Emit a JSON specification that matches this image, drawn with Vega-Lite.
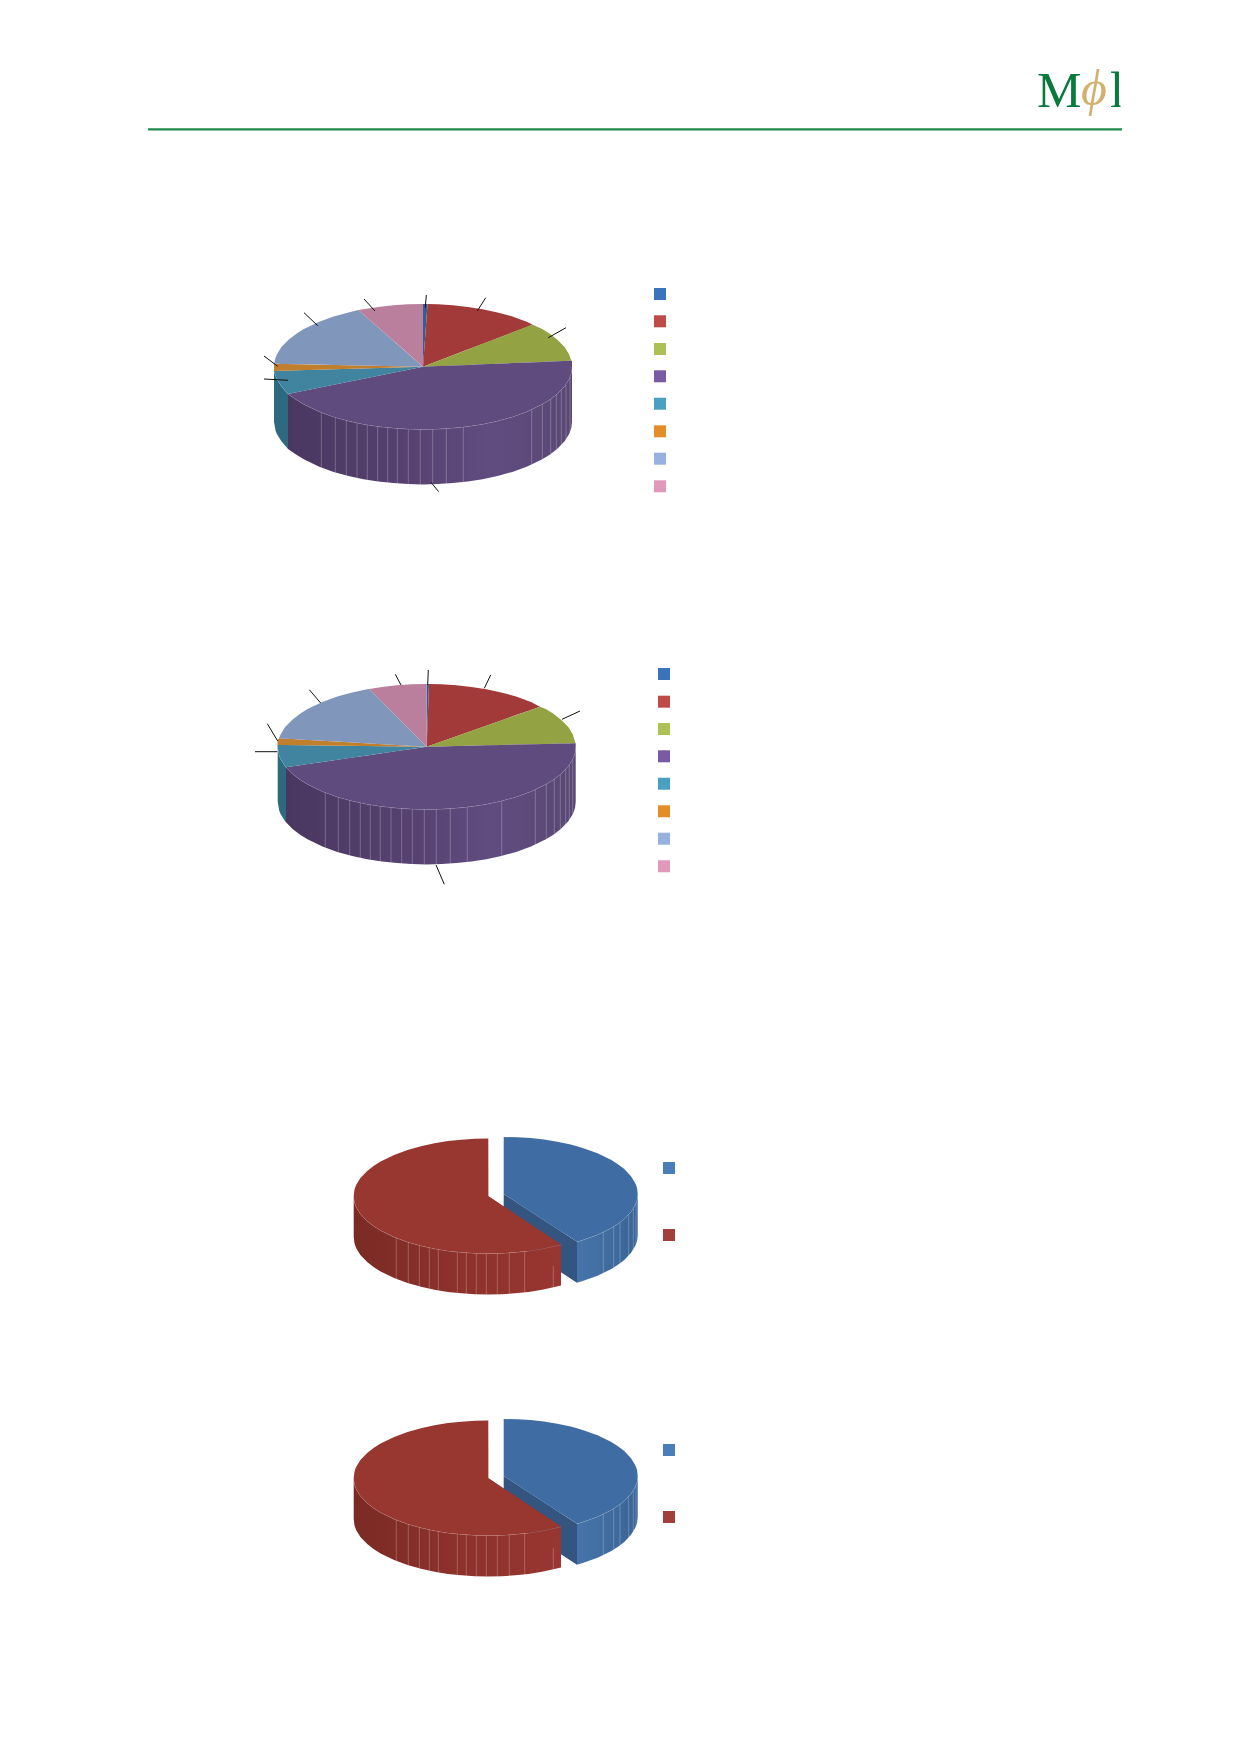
{
  "$schema": "https://vega.github.io/schema/vega-lite/v6.json",
  "description": "Four exploded-look pie charts under a letterhead, outlines read off the page.",
  "background": "white",
  "padding": 0,
  "spacing": 0,
  "config": {"view": {"stroke": null}},
  "datasets": {
    "tops": [
      {"pie":1,"slice":"a","x":423,"y":304,"y2":366.7},{"pie":1,"slice":"a","x":427.5,"y":304,"y2":304},
      {"pie":1,"slice":"b","x":423,"y":366.7,"y2":366.7},{"pie":1,"slice":"b","x":427.5,"y":304,"y2":365},{"pie":1,"slice":"b","x":437.9,"y":304.3,"y2":361},{"pie":1,"slice":"b","x":452.8,"y":305.3,"y2":355.3},{"pie":1,"slice":"b","x":467.7,"y":306.9,"y2":349.6},{"pie":1,"slice":"b","x":482.6,"y":309.2,"y2":344},{"pie":1,"slice":"b","x":497.5,"y":312.4,"y2":338.3},{"pie":1,"slice":"b","x":512.4,"y":316.5,"y2":332.6},{"pie":1,"slice":"b","x":527.3,"y":321.9,"y2":326.9},{"pie":1,"slice":"b","x":532.3,"y":324.6,"y2":324.6},
      {"pie":1,"slice":"c","x":423,"y":366.7,"y2":366.7},{"pie":1,"slice":"c","x":532.3,"y":324.6,"y2":362.3},{"pie":1,"slice":"c","x":542.2,"y":329.1,"y2":361.9},{"pie":1,"slice":"c","x":549.7,"y":333.7,"y2":361.6},{"pie":1,"slice":"c","x":557.1,"y":339.4,"y2":361.3},{"pie":1,"slice":"c","x":564.6,"y":347.1,"y2":361},{"pie":1,"slice":"c","x":569,"y":354.2,"y2":360.8},{"pie":1,"slice":"c","x":571.3,"y":360.7,"y2":360.7},
      {"pie":1,"slice":"d","x":288,"y":394,"y2":394},{"pie":1,"slice":"d","x":296.4,"y":392.3,"y2":399.7},{"pie":1,"slice":"d","x":303.8,"y":390.8,"y2":404.3},{"pie":1,"slice":"d","x":318.7,"y":387.8,"y2":411.5},{"pie":1,"slice":"d","x":333.6,"y":384.8,"y2":416.9},{"pie":1,"slice":"d","x":348.5,"y":381.8,"y2":421},{"pie":1,"slice":"d","x":363.4,"y":378.8,"y2":424.2},{"pie":1,"slice":"d","x":378.3,"y":375.7,"y2":426.5},{"pie":1,"slice":"d","x":393.2,"y":372.7,"y2":428.1},{"pie":1,"slice":"d","x":408.1,"y":369.7,"y2":429.1},{"pie":1,"slice":"d","x":423,"y":366.7,"y2":429.4},{"pie":1,"slice":"d","x":437.9,"y":366.1,"y2":429.1},{"pie":1,"slice":"d","x":452.8,"y":365.5,"y2":428.1},{"pie":1,"slice":"d","x":467.7,"y":364.9,"y2":426.5},{"pie":1,"slice":"d","x":482.6,"y":364.3,"y2":424.2},{"pie":1,"slice":"d","x":497.5,"y":363.7,"y2":421},{"pie":1,"slice":"d","x":512.4,"y":363.1,"y2":416.9},{"pie":1,"slice":"d","x":527.3,"y":362.5,"y2":411.5},{"pie":1,"slice":"d","x":542.2,"y":361.9,"y2":404.3},{"pie":1,"slice":"d","x":549.7,"y":361.6,"y2":399.7},{"pie":1,"slice":"d","x":557.1,"y":361.3,"y2":394},{"pie":1,"slice":"d","x":564.6,"y":361,"y2":386.3},{"pie":1,"slice":"d","x":569,"y":360.8,"y2":379.2},{"pie":1,"slice":"d","x":570.5,"y":360.7,"y2":375.5},{"pie":1,"slice":"d","x":571.4,"y":360.7,"y2":372.5},{"pie":1,"slice":"d","x":572,"y":360.7,"y2":366.7},
      {"pie":1,"slice":"e","x":274,"y":371,"y2":371},{"pie":1,"slice":"e","x":275.5,"y":370.9,"y2":375.5},{"pie":1,"slice":"e","x":277,"y":370.9,"y2":379.2},{"pie":1,"slice":"e","x":281.4,"y":370.8,"y2":386.3},{"pie":1,"slice":"e","x":288,"y":370.6,"y2":394},{"pie":1,"slice":"e","x":423,"y":366.7,"y2":366.7},
      {"pie":1,"slice":"f","x":274,"y":363.7,"y2":371},{"pie":1,"slice":"f","x":423,"y":366.7,"y2":366.7},
      {"pie":1,"slice":"g","x":274,"y":363.7,"y2":363.7},{"pie":1,"slice":"g","x":275.5,"y":357.9,"y2":363.7},{"pie":1,"slice":"g","x":277,"y":354.2,"y2":363.8},{"pie":1,"slice":"g","x":281.4,"y":347.1,"y2":363.9},{"pie":1,"slice":"g","x":288.9,"y":339.4,"y2":364},{"pie":1,"slice":"g","x":296.4,"y":333.7,"y2":364.2},{"pie":1,"slice":"g","x":303.8,"y":329.1,"y2":364.3},{"pie":1,"slice":"g","x":318.7,"y":321.9,"y2":364.6},{"pie":1,"slice":"g","x":333.6,"y":316.5,"y2":364.9},{"pie":1,"slice":"g","x":348.5,"y":312.4,"y2":365.2},{"pie":1,"slice":"g","x":358.3,"y":310,"y2":365.4},{"pie":1,"slice":"g","x":423,"y":366.7,"y2":366.7},
      {"pie":1,"slice":"h","x":358.3,"y":310,"y2":310},{"pie":1,"slice":"h","x":363.4,"y":309.2,"y2":314.5},{"pie":1,"slice":"h","x":378.3,"y":306.9,"y2":327.5},{"pie":1,"slice":"h","x":393.2,"y":305.3,"y2":340.6},{"pie":1,"slice":"h","x":408.1,"y":304.3,"y2":353.6},{"pie":1,"slice":"h","x":423,"y":304,"y2":366.7},
      {"pie":2,"slice":"a","x":426.7,"y":684,"y2":746.7},{"pie":2,"slice":"a","x":429,"y":684,"y2":684},
      {"pie":2,"slice":"b","x":426.7,"y":746.7,"y2":746.7},{"pie":2,"slice":"b","x":429,"y":684,"y2":745.9},{"pie":2,"slice":"b","x":441.6,"y":684.3,"y2":741.4},{"pie":2,"slice":"b","x":456.5,"y":685.3,"y2":736.2},{"pie":2,"slice":"b","x":471.4,"y":686.9,"y2":730.9},{"pie":2,"slice":"b","x":486.3,"y":689.2,"y2":725.7},{"pie":2,"slice":"b","x":501.2,"y":692.4,"y2":720.4},{"pie":2,"slice":"b","x":516.1,"y":696.5,"y2":715.1},{"pie":2,"slice":"b","x":531,"y":701.9,"y2":709.9},{"pie":2,"slice":"b","x":540,"y":706.7,"y2":706.7},
      {"pie":2,"slice":"c","x":426.7,"y":746.7,"y2":746.7},{"pie":2,"slice":"c","x":540,"y":706.7,"y2":744.1},{"pie":2,"slice":"c","x":545.9,"y":709.1,"y2":744},{"pie":2,"slice":"c","x":553.4,"y":713.7,"y2":743.8},{"pie":2,"slice":"c","x":560.8,"y":719.4,"y2":743.6},{"pie":2,"slice":"c","x":568.3,"y":727.1,"y2":743.4},{"pie":2,"slice":"c","x":572.7,"y":734.2,"y2":743.3},{"pie":2,"slice":"c","x":575.5,"y":743.3,"y2":743.3},
      {"pie":2,"slice":"d","x":286,"y":767.3,"y2":767.3},{"pie":2,"slice":"d","x":292.6,"y":766.3,"y2":774},{"pie":2,"slice":"d","x":300.1,"y":765.2,"y2":779.7},{"pie":2,"slice":"d","x":307.5,"y":764.1,"y2":784.3},{"pie":2,"slice":"d","x":322.4,"y":762,"y2":791.5},{"pie":2,"slice":"d","x":337.3,"y":759.8,"y2":796.9},{"pie":2,"slice":"d","x":352.2,"y":757.6,"y2":801},{"pie":2,"slice":"d","x":367.1,"y":755.4,"y2":804.2},{"pie":2,"slice":"d","x":382,"y":753.2,"y2":806.5},{"pie":2,"slice":"d","x":396.9,"y":751.1,"y2":808.1},{"pie":2,"slice":"d","x":411.8,"y":748.9,"y2":809.1},{"pie":2,"slice":"d","x":426.7,"y":746.7,"y2":809.4},{"pie":2,"slice":"d","x":441.6,"y":746.4,"y2":809.1},{"pie":2,"slice":"d","x":456.5,"y":746,"y2":808.1},{"pie":2,"slice":"d","x":471.4,"y":745.7,"y2":806.5},{"pie":2,"slice":"d","x":486.3,"y":745.3,"y2":804.2},{"pie":2,"slice":"d","x":501.2,"y":745,"y2":801},{"pie":2,"slice":"d","x":516.1,"y":744.6,"y2":796.9},{"pie":2,"slice":"d","x":531,"y":744.3,"y2":791.5},{"pie":2,"slice":"d","x":545.9,"y":744,"y2":784.3},{"pie":2,"slice":"d","x":553.4,"y":743.8,"y2":779.7},{"pie":2,"slice":"d","x":560.8,"y":743.6,"y2":774},{"pie":2,"slice":"d","x":568.3,"y":743.4,"y2":766.3},{"pie":2,"slice":"d","x":572.7,"y":743.3,"y2":759.2},{"pie":2,"slice":"d","x":574.2,"y":743.2,"y2":755.5},{"pie":2,"slice":"d","x":575.1,"y":743.2,"y2":752.5},{"pie":2,"slice":"d","x":575.7,"y":743.2,"y2":746.7},
      {"pie":2,"slice":"e","x":277.5,"y":745,"y2":746.7},{"pie":2,"slice":"e","x":279.2,"y":745,"y2":755.5},{"pie":2,"slice":"e","x":280.7,"y":745,"y2":759.2},{"pie":2,"slice":"e","x":285.1,"y":745.1,"y2":766.3},{"pie":2,"slice":"e","x":286,"y":745.1,"y2":767.3},{"pie":2,"slice":"e","x":426.7,"y":746.7,"y2":746.7},
      {"pie":2,"slice":"f","x":277.5,"y":740,"y2":745},{"pie":2,"slice":"f","x":279,"y":738.3,"y2":745},{"pie":2,"slice":"f","x":426.7,"y":746.7,"y2":746.7},
      {"pie":2,"slice":"g","x":279,"y":738.3,"y2":738.3},{"pie":2,"slice":"g","x":280.7,"y":734.2,"y2":738.4},{"pie":2,"slice":"g","x":285.1,"y":727.1,"y2":738.7},{"pie":2,"slice":"g","x":292.6,"y":719.4,"y2":739.1},{"pie":2,"slice":"g","x":300.1,"y":713.7,"y2":739.5},{"pie":2,"slice":"g","x":307.5,"y":709.1,"y2":739.9},{"pie":2,"slice":"g","x":322.4,"y":701.9,"y2":740.8},{"pie":2,"slice":"g","x":337.3,"y":696.5,"y2":741.6},{"pie":2,"slice":"g","x":352.2,"y":692.4,"y2":742.5},{"pie":2,"slice":"g","x":367.1,"y":689.2,"y2":743.3},{"pie":2,"slice":"g","x":369.3,"y":689,"y2":743.4},{"pie":2,"slice":"g","x":426.7,"y":746.7,"y2":746.7},
      {"pie":2,"slice":"h","x":369.3,"y":689,"y2":689},{"pie":2,"slice":"h","x":382,"y":686.9,"y2":701.8},{"pie":2,"slice":"h","x":396.9,"y":685.3,"y2":716.8},{"pie":2,"slice":"h","x":411.8,"y":684.3,"y2":731.7},{"pie":2,"slice":"h","x":426.7,"y":684,"y2":746.7}
    ],
    "walls": [
      {"pie":1,"slice":"e","x":274,"y":371,"y2":421.7},{"pie":1,"slice":"e","x":275.5,"y":375.5,"y2":430.5},{"pie":1,"slice":"e","x":277,"y":379.2,"y2":434.2},{"pie":1,"slice":"e","x":281.4,"y":386.3,"y2":441.3},{"pie":1,"slice":"e","x":288,"y":394,"y2":449},
      {"pie":1,"slice":"d","x":288,"y":394,"y2":449},{"pie":1,"slice":"d","x":296.4,"y":399.7,"y2":454.7},{"pie":1,"slice":"d","x":303.8,"y":404.3,"y2":459.3},{"pie":1,"slice":"d","x":318.7,"y":411.5,"y2":466.5},{"pie":1,"slice":"d","x":333.6,"y":416.9,"y2":471.9},{"pie":1,"slice":"d","x":348.5,"y":421,"y2":476},{"pie":1,"slice":"d","x":363.4,"y":424.2,"y2":479.2},{"pie":1,"slice":"d","x":378.3,"y":426.5,"y2":481.5},{"pie":1,"slice":"d","x":393.2,"y":428.1,"y2":483.1},{"pie":1,"slice":"d","x":408.1,"y":429.1,"y2":484.1},{"pie":1,"slice":"d","x":423,"y":429.4,"y2":484.4},{"pie":1,"slice":"d","x":437.9,"y":429.1,"y2":484.1},{"pie":1,"slice":"d","x":452.8,"y":428.1,"y2":483.1},{"pie":1,"slice":"d","x":467.7,"y":426.5,"y2":481.5},{"pie":1,"slice":"d","x":482.6,"y":424.2,"y2":479.2},{"pie":1,"slice":"d","x":497.5,"y":421,"y2":476},{"pie":1,"slice":"d","x":512.4,"y":416.9,"y2":471.9},{"pie":1,"slice":"d","x":527.3,"y":411.5,"y2":466.5},{"pie":1,"slice":"d","x":542.2,"y":404.3,"y2":459.3},{"pie":1,"slice":"d","x":549.7,"y":399.7,"y2":454.7},{"pie":1,"slice":"d","x":557.1,"y":394,"y2":449},{"pie":1,"slice":"d","x":564.6,"y":386.3,"y2":441.3},{"pie":1,"slice":"d","x":569,"y":379.2,"y2":434.2},{"pie":1,"slice":"d","x":570.5,"y":375.5,"y2":430.5},{"pie":1,"slice":"d","x":571.4,"y":372.5,"y2":427.5},{"pie":1,"slice":"d","x":572,"y":366.7,"y2":421.7},
      {"pie":2,"slice":"e","x":277.7,"y":746.7,"y2":801.7},{"pie":2,"slice":"e","x":279.2,"y":755.5,"y2":810.5},{"pie":2,"slice":"e","x":280.7,"y":759.2,"y2":814.2},{"pie":2,"slice":"e","x":285.1,"y":766.3,"y2":821.3},{"pie":2,"slice":"e","x":286,"y":767.3,"y2":822.3},
      {"pie":2,"slice":"d","x":286,"y":767.3,"y2":822.3},{"pie":2,"slice":"d","x":292.6,"y":774,"y2":829},{"pie":2,"slice":"d","x":300.1,"y":779.7,"y2":834.7},{"pie":2,"slice":"d","x":307.5,"y":784.3,"y2":839.3},{"pie":2,"slice":"d","x":322.4,"y":791.5,"y2":846.5},{"pie":2,"slice":"d","x":337.3,"y":796.9,"y2":851.9},{"pie":2,"slice":"d","x":352.2,"y":801,"y2":856},{"pie":2,"slice":"d","x":367.1,"y":804.2,"y2":859.2},{"pie":2,"slice":"d","x":382,"y":806.5,"y2":861.5},{"pie":2,"slice":"d","x":396.9,"y":808.1,"y2":863.1},{"pie":2,"slice":"d","x":411.8,"y":809.1,"y2":864.1},{"pie":2,"slice":"d","x":426.7,"y":809.4,"y2":864.4},{"pie":2,"slice":"d","x":441.6,"y":809.1,"y2":864.1},{"pie":2,"slice":"d","x":456.5,"y":808.1,"y2":863.1},{"pie":2,"slice":"d","x":471.4,"y":806.5,"y2":861.5},{"pie":2,"slice":"d","x":486.3,"y":804.2,"y2":859.2},{"pie":2,"slice":"d","x":501.2,"y":801,"y2":856},{"pie":2,"slice":"d","x":516.1,"y":796.9,"y2":851.9},{"pie":2,"slice":"d","x":531,"y":791.5,"y2":846.5},{"pie":2,"slice":"d","x":545.9,"y":784.3,"y2":839.3},{"pie":2,"slice":"d","x":553.4,"y":779.7,"y2":834.7},{"pie":2,"slice":"d","x":560.8,"y":774,"y2":829},{"pie":2,"slice":"d","x":568.3,"y":766.3,"y2":821.3},{"pie":2,"slice":"d","x":572.7,"y":759.2,"y2":814.2},{"pie":2,"slice":"d","x":574.2,"y":755.5,"y2":810.5},{"pie":2,"slice":"d","x":575.1,"y":752.5,"y2":807.5},{"pie":2,"slice":"d","x":575.7,"y":746.7,"y2":801.7}
    ],
    "seams": [
      {"x":321.3,"y":412.5,"y2":467.5},{"x":335.3,"y":417.4,"y2":472.4},{"x":346.3,"y":420.5,"y2":475.5},{"x":357,"y":423,"y2":478},{"x":367.3,"y":424.9,"y2":479.9},{"x":377.7,"y":426.4,"y2":481.4},{"x":387.7,"y":427.6,"y2":482.6},{"x":397.3,"y":428.4,"y2":483.4},{"x":408.3,"y":429.1,"y2":484.1},{"x":420.3,"y":429.4,"y2":484.4},{"x":432.7,"y":429.2,"y2":484.2},{"x":446.3,"y":428.6,"y2":483.6},{"x":463.3,"y":427,"y2":482},{"x":531.7,"y":409.5,"y2":464.5},{"x":542.3,"y":404.2,"y2":459.2},{"x":550.7,"y":399,"y2":454},{"x":556.3,"y":394.6,"y2":449.6},{"x":561.3,"y":390,"y2":445},{"x":566,"y":385,"y2":440},{"x":570,"y":377,"y2":432},
      {"x":325.3,"y":792.6,"y2":847.6},{"x":338.3,"y":797.3,"y2":852.3},{"x":349.7,"y":800.6,"y2":855.6},{"x":360.3,"y":803.2,"y2":858.2},{"x":370.3,"y":805.1,"y2":860.1},{"x":380.3,"y":806.7,"y2":861.7},{"x":391,"y":807.8,"y2":862.8},{"x":401.7,"y":808.6,"y2":863.6},{"x":412.3,"y":809.1,"y2":864.1},{"x":424.3,"y":809.4,"y2":864.4},{"x":436.3,"y":809.2,"y2":864.2},{"x":450.3,"y":808.5,"y2":863.5},{"x":467.3,"y":806.9,"y2":861.9},{"x":501.7,"y":800.8,"y2":855.8},{"x":535.3,"y":789.5,"y2":844.5},{"x":546.3,"y":783.8,"y2":838.8},{"x":554.3,"y":779,"y2":834},{"x":560.3,"y":774.5,"y2":829.5},{"x":565.7,"y":769.3,"y2":824.3},{"x":569.3,"y":765,"y2":820},{"x":572.7,"y":759.2,"y2":814.2}
    ],
    "leaders": [
      {"x":426.3,"y":295,"x2":425.3,"y2":307.7},{"x":485.7,"y":297.7,"x2":477.3,"y2":311},{"x":566,"y":327.7,"x2":548.3,"y2":337.7},{"x":431,"y":482.3,"x2":438.7,"y2":491.7},{"x":264,"y":379,"x2":288,"y2":380.3},{"x":264,"y":356,"x2":277.7,"y2":366.3},{"x":304,"y":312.7,"x2":317.7,"y2":325.7},{"x":364,"y":299,"x2":375,"y2":311},
      {"x":428.3,"y":670,"x2":427.7,"y2":685},{"x":490.7,"y":675,"x2":484.3,"y2":688.3},{"x":580,"y":711,"x2":562,"y2":719.3},{"x":436,"y":865,"x2":444.3,"y2":884.3},{"x":255,"y":751.7,"x2":277.3,"y2":751.7},{"x":267.3,"y":723.7,"x2":277.7,"y2":741},{"x":309.3,"y":689.7,"x2":320.7,"y2":703},{"x":395.3,"y":674.3,"x2":401,"y2":685}
    ],
    "keys": [
      {"slice":"a","x":660,"y":294},{"slice":"b","x":660,"y":321.3},{"slice":"c","x":660,"y":349},{"slice":"d","x":660,"y":376.3},{"slice":"e","x":660,"y":403.7},{"slice":"f","x":660,"y":431.3},{"slice":"g","x":660,"y":458.7},{"slice":"h","x":660,"y":486.3},
      {"slice":"a","x":664,"y":674},{"slice":"b","x":664,"y":701.7},{"slice":"c","x":664,"y":729},{"slice":"d","x":664,"y":756.3},{"slice":"e","x":664,"y":783.7},{"slice":"f","x":664,"y":811.3},{"slice":"g","x":664,"y":838.7},{"slice":"h","x":664,"y":866.3}
    ],
    "splitTops": [
      {"slice":"blue","x":503.7,"y":1137,"y2":1194},{"slice":"blue","x":517.1,"y":1137.3,"y2":1202.7},{"slice":"blue","x":530.5,"y":1138.1,"y2":1211.5},{"slice":"blue","x":543.9,"y":1139.6,"y2":1220.2},{"slice":"blue","x":557.3,"y":1141.7,"y2":1228.9},{"slice":"blue","x":570.7,"y":1144.6,"y2":1237.6},{"slice":"blue","x":577,"y":1146.3,"y2":1241.7},{"slice":"blue","x":584.1,"y":1148.4,"y2":1239.6},{"slice":"blue","x":597.5,"y":1153.3,"y2":1234.7},{"slice":"blue","x":610.9,"y":1159.8,"y2":1228.2},{"slice":"blue","x":617.6,"y":1164,"y2":1224},{"slice":"blue","x":624.3,"y":1169.1,"y2":1218.9},{"slice":"blue","x":631,"y":1176.2,"y2":1211.8},{"slice":"blue","x":635,"y":1182.7,"y2":1205.3},{"slice":"blue","x":636.4,"y":1186,"y2":1202},{"slice":"blue","x":637.1,"y":1188.3,"y2":1199.7},{"slice":"blue","x":637.7,"y":1194,"y2":1194},
      {"slice":"red","x":353.7,"y":1196,"y2":1196},{"slice":"red","x":354.4,"y":1190.3,"y2":1201.7},{"slice":"red","x":355,"y":1187.9,"y2":1204.1},{"slice":"red","x":356.4,"y":1184.6,"y2":1207.4},{"slice":"red","x":360.4,"y":1178.1,"y2":1213.9},{"slice":"red","x":367.2,"y":1170.9,"y2":1221.1},{"slice":"red","x":373.9,"y":1165.7,"y2":1226.3},{"slice":"red","x":380.6,"y":1161.5,"y2":1230.5},{"slice":"red","x":394.1,"y":1154.9,"y2":1237.1},{"slice":"red","x":407.5,"y":1150,"y2":1242},{"slice":"red","x":421,"y":1146.2,"y2":1245.8},{"slice":"red","x":434.5,"y":1143.3,"y2":1248.7},{"slice":"red","x":447.9,"y":1141.1,"y2":1250.9},{"slice":"red","x":461.4,"y":1139.7,"y2":1252.3},{"slice":"red","x":474.8,"y":1138.8,"y2":1253.2},{"slice":"red","x":488.3,"y":1138.5,"y2":1253.5},{"slice":"red","x":488.4,"y":1196,"y2":1253.5},{"slice":"red","x":501.8,"y":1205,"y2":1253.2},{"slice":"red","x":515.2,"y":1213.9,"y2":1252.3},{"slice":"red","x":528.7,"y":1222.9,"y2":1250.9},{"slice":"red","x":542.1,"y":1231.8,"y2":1248.7},{"slice":"red","x":555.6,"y":1240.8,"y2":1245.8},{"slice":"red","x":561,"y":1244.4,"y2":1244.4}
    ],
    "splitWalls": [
      {"slice":"cut","x":503.7,"y":1194,"y2":1235},{"slice":"cut","x":577,"y":1241.7,"y2":1282.7},
      {"slice":"blue","x":577,"y":1241.7,"y2":1282.7},{"slice":"blue","x":584.1,"y":1239.6,"y2":1280.6},{"slice":"blue","x":597.5,"y":1234.7,"y2":1275.7},{"slice":"blue","x":610.9,"y":1228.2,"y2":1269.2},{"slice":"blue","x":617.6,"y":1224,"y2":1265},{"slice":"blue","x":624.3,"y":1218.9,"y2":1259.9},{"slice":"blue","x":631,"y":1211.8,"y2":1252.8},{"slice":"blue","x":635,"y":1205.3,"y2":1246.3},{"slice":"blue","x":636.4,"y":1202,"y2":1243},{"slice":"blue","x":637.1,"y":1199.7,"y2":1240.7},{"slice":"blue","x":637.7,"y":1194,"y2":1235},
      {"slice":"red","x":353.7,"y":1196,"y2":1237},{"slice":"red","x":354.4,"y":1201.7,"y2":1242.7},{"slice":"red","x":355,"y":1204.1,"y2":1245.1},{"slice":"red","x":356.4,"y":1207.4,"y2":1248.4},{"slice":"red","x":360.4,"y":1213.9,"y2":1254.9},{"slice":"red","x":367.2,"y":1221.1,"y2":1262.1},{"slice":"red","x":373.9,"y":1226.3,"y2":1267.3},{"slice":"red","x":380.6,"y":1230.5,"y2":1271.5},{"slice":"red","x":394.1,"y":1237.1,"y2":1278.1},{"slice":"red","x":407.5,"y":1242,"y2":1283},{"slice":"red","x":421,"y":1245.8,"y2":1286.8},{"slice":"red","x":434.5,"y":1248.7,"y2":1289.7},{"slice":"red","x":447.9,"y":1250.9,"y2":1291.9},{"slice":"red","x":461.4,"y":1252.3,"y2":1293.3},{"slice":"red","x":474.8,"y":1253.2,"y2":1294.2},{"slice":"red","x":488.3,"y":1253.5,"y2":1294.5},{"slice":"red","x":501.8,"y":1253.2,"y2":1294.2},{"slice":"red","x":515.2,"y":1252.3,"y2":1293.3},{"slice":"red","x":528.7,"y":1250.9,"y2":1291.9},{"slice":"red","x":542.1,"y":1248.7,"y2":1289.7},{"slice":"red","x":555.6,"y":1245.8,"y2":1286.8},{"slice":"red","x":561,"y":1244.4,"y2":1285.4}
    ],
    "splitSeams": [
      {"x":396.3,"y":1238,"y2":1279},{"x":408.3,"y":1242.3,"y2":1283.3},{"x":419.3,"y":1245.4,"y2":1286.4},{"x":429.3,"y":1247.7,"y2":1288.7},{"x":438.3,"y":1249.4,"y2":1290.4},{"x":457.3,"y":1252,"y2":1293},{"x":466.3,"y":1252.7,"y2":1293.7},{"x":476.3,"y":1253.3,"y2":1294.3},{"x":486.3,"y":1253.5,"y2":1294.5},{"x":497.3,"y":1253.3,"y2":1294.3},{"x":509.3,"y":1252.8,"y2":1293.8},{"x":524.7,"y":1251.4,"y2":1292.4},{"x":553.3,"y":1266,"y2":1287.4},
      {"x":603.3,"y":1232,"y2":1273},{"x":613.7,"y":1226.6,"y2":1267.6},{"x":620,"y":1222.3,"y2":1263.3},{"x":628.7,"y":1214.5,"y2":1255.5},{"x":633.3,"y":1208.5,"y2":1249.5},{"x":636,"y":1203,"y2":1244}
    ],
    "splitKeys": [
      {"slice":"blue","x":669,"y":1168},{"slice":"red","x":669,"y":1235}
    ]
  },
  "vconcat": [
    {
      "width": 1239,
      "height": 1050,
      "encoding": {
        "x": {"field": "x", "type": "quantitative", "axis": null, "scale": {"domain": [0, 1239], "nice": false, "zero": false}},
        "y": {"field": "y", "type": "quantitative", "axis": null, "scale": {"domain": [0, 1050], "nice": false, "zero": false, "reverse": true}}
      },
      "resolve": {"scale": {"color": "independent"}},
      "layer": [
        {
          "data": {"name": "walls"},
          "transform": [{"filter": {"field": "slice", "equal": "e"}}],
          "mark": {"type": "area", "orient": "vertical", "color": "#2d6a80"},
          "encoding": {"y2": {"field": "y2"}, "detail": {"field": "pie"}}
        },
        {
          "data": {"name": "walls"},
          "transform": [{"filter": {"field": "slice", "equal": "d"}}],
          "mark": {"type": "area", "orient": "vertical", "color": {"gradient": "linear", "x1": 0, "x2": 1, "y1": 0, "y2": 0, "stops": [{"offset": 0, "color": "#4a3760"}, {"offset": 0.45, "color": "#574272"}, {"offset": 0.7, "color": "#614c80"}, {"offset": 1, "color": "#5a4874"}]}},
          "encoding": {"y2": {"field": "y2"}, "detail": {"field": "pie"}}
        },
        {
          "data": {"name": "seams"},
          "mark": {"type": "rule", "color": "white", "opacity": 0.24, "strokeWidth": 1},
          "encoding": {"y2": {"field": "y2"}}
        },
        {
          "data": {"name": "walls"},
          "mark": {"type": "line", "color": "white", "opacity": 0.2, "strokeWidth": 1},
          "encoding": {"detail": [{"field": "pie"}, {"field": "slice"}]}
        },
        {
          "data": {"name": "tops"},
          "mark": {"type": "area", "orient": "vertical"},
          "encoding": {
            "y2": {"field": "y2"},
            "detail": {"field": "pie"},
            "color": {"field": "slice", "type": "nominal", "legend": null, "scale": {"domain": ["a", "b", "c", "d", "e", "f", "g", "h"], "range": ["#2f5f9a", "#a33a3a", "#93a344", "#604b7f", "#41849f", "#c07f2c", "#8196bb", "#b97f9d"]}}
          }
        },
        {
          "data": {"name": "leaders"},
          "mark": {"type": "rule", "color": "#111111", "strokeWidth": 1},
          "encoding": {"x2": {"field": "x2"}, "y2": {"field": "y2"}}
        },
        {
          "data": {"name": "keys"},
          "mark": {"type": "point", "shape": "square", "filled": true, "size": 144, "opacity": 1},
          "encoding": {
            "color": {"field": "slice", "type": "nominal", "legend": null, "scale": {"domain": ["a", "b", "c", "d", "e", "f", "g", "h"], "range": ["#3b73bd", "#be4b48", "#adc055", "#7a5ba3", "#4aa0c0", "#e48e2a", "#98b2df", "#e199bb"]}}
          }
        },
        {
          "data": {"values": [{"x": 148, "x2": 1122, "y": 129.3}]},
          "mark": {"type": "rule", "color": "#1f8a4c", "strokeWidth": 2.2},
          "encoding": {"x2": {"field": "x2"}}
        },
        {
          "data": {"values": [{"label": "M", "x": 1037, "y": 106.7}, {"label": "l", "x": 1110, "y": 106.7}]},
          "mark": {"type": "text", "font": "Liberation Serif", "fontSize": 50, "align": "left", "baseline": "alphabetic", "color": "#0a7a3c"},
          "encoding": {"text": {"field": "label"}}
        },
        {
          "data": {"values": [{"x": 1120.5, "x2": 1134, "y": 65, "y2": 112}]},
          "mark": {"type": "rect", "color": "white"},
          "encoding": {"x2": {"field": "x2"}, "y2": {"field": "y2"}}
        },
        {
          "data": {"values": [{"label": "ϕ", "x": 1081, "y": 105}]},
          "mark": {"type": "text", "font": "Liberation Serif", "fontSize": 50, "fontStyle": "italic", "align": "left", "baseline": "alphabetic", "color": "#d2b06f"},
          "encoding": {"text": {"field": "label"}}
        }
      ]
    },
    {
      "width": 1239,
      "height": 281.3,
      "encoding": {
        "x": {"field": "x", "type": "quantitative", "axis": null, "scale": {"domain": [0, 1239], "nice": false, "zero": false}},
        "y": {"field": "y", "type": "quantitative", "axis": null, "scale": {"domain": [1050, 1331.3], "nice": false, "zero": false, "reverse": true}}
      },
      "resolve": {"scale": {"color": "independent"}},
      "layer": [
        {
          "data": {"name": "splitWalls"},
          "transform": [{"filter": {"field": "slice", "equal": "cut"}}],
          "mark": {"type": "area", "orient": "vertical", "color": "#33557f"},
          "encoding": {"y2": {"field": "y2"}}
        },
        {
          "data": {"name": "splitWalls"},
          "transform": [{"filter": {"field": "slice", "equal": "blue"}}],
          "mark": {"type": "area", "orient": "vertical", "color": {"gradient": "linear", "x1": 0, "x2": 1, "y1": 0, "y2": 0, "stops": [{"offset": 0, "color": "#4674aa"}, {"offset": 1, "color": "#3a6496"}]}},
          "encoding": {"y2": {"field": "y2"}}
        },
        {
          "data": {"name": "splitWalls"},
          "transform": [{"filter": {"field": "slice", "equal": "red"}}],
          "mark": {"type": "area", "orient": "vertical", "color": {"gradient": "linear", "x1": 0, "x2": 1, "y1": 0, "y2": 0, "stops": [{"offset": 0, "color": "#7a2a24"}, {"offset": 0.4, "color": "#8a302a"}, {"offset": 1, "color": "#993631"}]}},
          "encoding": {"y2": {"field": "y2"}}
        },
        {
          "data": {"name": "splitSeams"},
          "mark": {"type": "rule", "color": "white", "opacity": 0.24, "strokeWidth": 1},
          "encoding": {"y2": {"field": "y2"}}
        },
        {
          "data": {"name": "splitWalls"},
          "transform": [{"filter": {"field": "slice", "oneOf": ["blue", "red"]}}],
          "mark": {"type": "line", "color": "white", "opacity": 0.25, "strokeWidth": 1},
          "encoding": {"detail": {"field": "slice"}}
        },
        {
          "data": {"name": "splitTops"},
          "mark": {"type": "area", "orient": "vertical"},
          "encoding": {
            "y2": {"field": "y2"},
            "color": {"field": "slice", "type": "nominal", "legend": null, "scale": {"domain": ["blue", "red"], "range": ["#3f6da3", "#983630"]}}
          }
        },
        {
          "data": {"name": "splitKeys"},
          "mark": {"type": "point", "shape": "square", "filled": true, "size": 144, "opacity": 1},
          "encoding": {
            "color": {"field": "slice", "type": "nominal", "legend": null, "scale": {"domain": ["blue", "red"], "range": ["#4a7ebb", "#a33e3b"]}}
          }
        }
      ]
    },
    {
      "width": 1239,
      "height": 281.3,
      "encoding": {
        "x": {"field": "x", "type": "quantitative", "axis": null, "scale": {"domain": [0, 1239], "nice": false, "zero": false}},
        "y": {"field": "y", "type": "quantitative", "axis": null, "scale": {"domain": [1050, 1331.3], "nice": false, "zero": false, "reverse": true}}
      },
      "resolve": {"scale": {"color": "independent"}},
      "layer": [
        {
          "data": {"name": "splitWalls"},
          "transform": [{"filter": {"field": "slice", "equal": "cut"}}],
          "mark": {"type": "area", "orient": "vertical", "color": "#33557f"},
          "encoding": {"y2": {"field": "y2"}}
        },
        {
          "data": {"name": "splitWalls"},
          "transform": [{"filter": {"field": "slice", "equal": "blue"}}],
          "mark": {"type": "area", "orient": "vertical", "color": {"gradient": "linear", "x1": 0, "x2": 1, "y1": 0, "y2": 0, "stops": [{"offset": 0, "color": "#4674aa"}, {"offset": 1, "color": "#3a6496"}]}},
          "encoding": {"y2": {"field": "y2"}}
        },
        {
          "data": {"name": "splitWalls"},
          "transform": [{"filter": {"field": "slice", "equal": "red"}}],
          "mark": {"type": "area", "orient": "vertical", "color": {"gradient": "linear", "x1": 0, "x2": 1, "y1": 0, "y2": 0, "stops": [{"offset": 0, "color": "#7a2a24"}, {"offset": 0.4, "color": "#8a302a"}, {"offset": 1, "color": "#993631"}]}},
          "encoding": {"y2": {"field": "y2"}}
        },
        {
          "data": {"name": "splitSeams"},
          "mark": {"type": "rule", "color": "white", "opacity": 0.24, "strokeWidth": 1},
          "encoding": {"y2": {"field": "y2"}}
        },
        {
          "data": {"name": "splitWalls"},
          "transform": [{"filter": {"field": "slice", "oneOf": ["blue", "red"]}}],
          "mark": {"type": "line", "color": "white", "opacity": 0.25, "strokeWidth": 1},
          "encoding": {"detail": {"field": "slice"}}
        },
        {
          "data": {"name": "splitTops"},
          "mark": {"type": "area", "orient": "vertical"},
          "encoding": {
            "y2": {"field": "y2"},
            "color": {"field": "slice", "type": "nominal", "legend": null, "scale": {"domain": ["blue", "red"], "range": ["#3f6da3", "#983630"]}}
          }
        },
        {
          "data": {"name": "splitKeys"},
          "mark": {"type": "point", "shape": "square", "filled": true, "size": 144, "opacity": 1},
          "encoding": {
            "color": {"field": "slice", "type": "nominal", "legend": null, "scale": {"domain": ["blue", "red"], "range": ["#4a7ebb", "#a33e3b"]}}
          }
        }
      ]
    }
  ]
}
